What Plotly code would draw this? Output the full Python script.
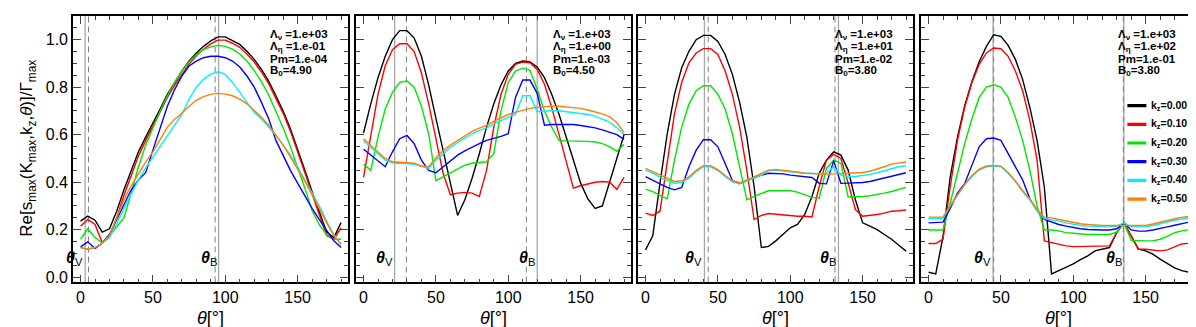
import plotly.graph_objects as go
from plotly.subplots import make_subplots

# angle grid (deg)
theta = list(range(0, 185, 5))

k_labels = ["0.00", "0.10", "0.20", "0.30", "0.40", "0.50"]
k_colors = ["#000000", "#ff0000", "#00e600", "#0000ff", "#00f0ff", "#ff8000"]

# panel 1: Lambda_eta = 1e-01
p1_k000 = [0.236, 0.257, 0.24, 0.19, 0.204, 0.278, 0.368, 0.45, 0.528, 0.59, 0.646, 0.708, 0.77, 0.82, 0.868,
           0.91, 0.944, 0.972, 0.995, 1.012, 1.012, 0.996, 0.98, 0.951, 0.917, 0.875, 0.826, 0.764, 0.70, 0.625,
           0.54, 0.45, 0.36, 0.278, 0.19, 0.167, 0.23]
p1_k010 = [0.215, 0.243, 0.222, 0.146, 0.17, 0.25, 0.345, 0.43, 0.51, 0.575, 0.635, 0.695, 0.757, 0.808, 0.855,
           0.897, 0.932, 0.96, 0.982, 0.998, 0.998, 0.985, 0.968, 0.94, 0.906, 0.864, 0.815, 0.754, 0.69, 0.615,
           0.53, 0.44, 0.35, 0.265, 0.176, 0.16, 0.208]
p1_k020 = [0.16, 0.204, 0.167, 0.146, 0.175, 0.212, 0.25, 0.354, 0.465, 0.556, 0.632, 0.70, 0.764, 0.82, 0.868,
           0.907, 0.937, 0.958, 0.97, 0.976, 0.972, 0.96, 0.94, 0.91, 0.87, 0.823, 0.767, 0.70, 0.628, 0.55,
           0.465, 0.375, 0.28, 0.22, 0.18, 0.16, 0.16]
p1_k030 = [0.128, 0.149, 0.121, 0.143, 0.18, 0.243, 0.305, 0.368, 0.41, 0.44, 0.535, 0.63, 0.72, 0.79, 0.847,
           0.889, 0.91, 0.924, 0.93, 0.93, 0.924, 0.91, 0.885, 0.847, 0.80, 0.736, 0.667, 0.576, 0.51, 0.45,
           0.396, 0.34, 0.29, 0.243, 0.2, 0.153, 0.125]
p1_k040 = [0.125, 0.118, 0.125, 0.143, 0.167, 0.225, 0.29, 0.35, 0.41, 0.46, 0.505, 0.555, 0.6, 0.643, 0.685,
           0.75, 0.8, 0.833, 0.855, 0.865, 0.854, 0.82, 0.778, 0.736, 0.694, 0.667, 0.632, 0.597, 0.556, 0.514,
           0.465, 0.41, 0.354, 0.3, 0.236, 0.18, 0.139]
p1_k050 = [0.125, 0.118, 0.125, 0.143, 0.175, 0.25, 0.326, 0.385, 0.4375, 0.485, 0.528, 0.58, 0.632, 0.665, 0.69,
           0.72, 0.745, 0.76, 0.77, 0.774, 0.771, 0.764, 0.75, 0.73, 0.704, 0.674, 0.64, 0.60, 0.556, 0.507,
           0.458, 0.403, 0.347, 0.285, 0.23, 0.174, 0.139]

# panel 2: Lambda_eta = 1e+00
p2_k000 = [0.607, 0.73, 0.84, 0.93, 1.0, 1.038, 1.038, 1.007, 0.93, 0.81, 0.67, 0.535, 0.396, 0.26, 0.326, 0.417,
           0.52, 0.632, 0.73, 0.81, 0.868, 0.9, 0.91, 0.906, 0.885, 0.84, 0.77, 0.6875, 0.59, 0.493, 0.396, 0.33,
           0.29, 0.3, 0.4, 0.5, 0.6]
p2_k010 = [0.42, 0.604, 0.77, 0.89, 0.958, 0.983, 0.983, 0.95, 0.86, 0.73, 0.576, 0.4375, 0.347, 0.354, 0.357,
           0.354, 0.34, 0.45, 0.632, 0.77, 0.854, 0.896, 0.906, 0.903, 0.875, 0.8125, 0.715, 0.604, 0.493, 0.375,
           0.385, 0.393, 0.4, 0.403, 0.4, 0.37, 0.42]
p2_k020 = [0.476, 0.45, 0.59, 0.708, 0.778, 0.82, 0.826, 0.8, 0.72, 0.604, 0.407, 0.424, 0.44, 0.458, 0.472, 0.48,
           0.482, 0.486, 0.52, 0.70, 0.82, 0.868, 0.88, 0.871, 0.79, 0.70, 0.632, 0.576, 0.574, 0.574, 0.574,
           0.572, 0.569, 0.5625, 0.55, 0.53, 0.56]
p2_k030 = [0.539, 0.514, 0.486, 0.465, 0.528, 0.583, 0.597, 0.5625, 0.493, 0.45, 0.44, 0.465, 0.493, 0.514, 0.532,
           0.549, 0.5625, 0.576, 0.583, 0.593, 0.604, 0.757, 0.83, 0.83, 0.774, 0.64, 0.643, 0.643, 0.643, 0.643,
           0.639, 0.635, 0.629, 0.62, 0.611, 0.6, 0.58]
p2_k040 = [0.574, 0.549, 0.52, 0.493, 0.482, 0.479, 0.479, 0.475, 0.465, 0.458, 0.493, 0.52, 0.546, 0.567, 0.586,
           0.604, 0.618, 0.629, 0.646, 0.66, 0.674, 0.6875, 0.764, 0.764, 0.697, 0.70, 0.701, 0.701, 0.697, 0.694,
           0.69, 0.685, 0.678, 0.667, 0.653, 0.63, 0.6]
p2_k050 = [0.583, 0.556, 0.528, 0.5, 0.486, 0.483, 0.482, 0.48, 0.468, 0.465, 0.503, 0.532, 0.556, 0.576, 0.597,
           0.614, 0.628, 0.639, 0.656, 0.671, 0.685, 0.694, 0.704, 0.711, 0.715, 0.718, 0.72, 0.72, 0.718, 0.715,
           0.711, 0.704, 0.697, 0.6875, 0.676, 0.65, 0.61]

# panel 3: Lambda_eta = 1e+01
p3_k000 = [0.115, 0.174, 0.396, 0.604, 0.77, 0.882, 0.951, 1.0, 1.018, 1.018, 0.993, 0.9375, 0.854, 0.736, 0.59,
           0.382, 0.125, 0.13, 0.153, 0.18, 0.208, 0.222, 0.264, 0.34, 0.4375, 0.493, 0.528, 0.514, 0.451, 0.326,
           0.229, 0.215, 0.2, 0.18, 0.16, 0.135, 0.11]
p3_k010 = [0.27, 0.26, 0.278, 0.493, 0.6875, 0.82, 0.903, 0.944, 0.9625, 0.9625, 0.9375, 0.868, 0.77, 0.632, 0.45,
           0.243, 0.26, 0.268, 0.265, 0.262, 0.257, 0.257, 0.257, 0.254, 0.382, 0.493, 0.517, 0.5, 0.396, 0.285,
           0.257, 0.26, 0.264, 0.27, 0.278, 0.28, 0.283]
p3_k020 = [0.371, 0.36, 0.345, 0.33, 0.493, 0.632, 0.729, 0.785, 0.806, 0.806, 0.77, 0.708, 0.604, 0.465, 0.326,
           0.34, 0.352, 0.364, 0.364, 0.364, 0.364, 0.358, 0.347, 0.336, 0.333, 0.458, 0.493, 0.479, 0.3375, 0.3375,
           0.34, 0.343, 0.347, 0.354, 0.361, 0.37, 0.378]
p3_k030 = [0.424, 0.41, 0.393, 0.378, 0.368, 0.378, 0.465, 0.535, 0.579, 0.579, 0.549, 0.479, 0.407, 0.396, 0.407,
           0.42, 0.43, 0.4375, 0.4375, 0.435, 0.43, 0.426, 0.424, 0.42, 0.395, 0.393, 0.49, 0.395, 0.396, 0.396,
           0.399, 0.403, 0.41, 0.417, 0.424, 0.432, 0.44]
p3_k040 = [0.451, 0.438, 0.42, 0.407, 0.396, 0.399, 0.417, 0.444, 0.465, 0.465, 0.449, 0.424, 0.401, 0.392, 0.403,
           0.417, 0.43, 0.449, 0.451, 0.449, 0.444, 0.441, 0.4375, 0.4375, 0.435, 0.4375, 0.465, 0.43, 0.424, 0.424,
           0.428, 0.433, 0.44, 0.449, 0.458, 0.465, 0.47]
p3_k050 = [0.458, 0.444, 0.43, 0.414, 0.403, 0.406, 0.422, 0.45, 0.47, 0.47, 0.453, 0.428, 0.406, 0.397, 0.408,
           0.422, 0.4375, 0.451, 0.454, 0.451, 0.447, 0.443, 0.4375, 0.435, 0.434, 0.433, 0.435, 0.436, 0.436,
           0.4375, 0.441, 0.446, 0.454, 0.465, 0.476, 0.48, 0.485]

# panel 4: Lambda_eta = 1e+02
p4_k000 = [0.021, 0.014, 0.17, 0.424, 0.59, 0.722, 0.824, 0.907, 0.972, 1.021, 1.014, 0.976, 0.917, 0.833, 0.715,
           0.576, 0.38, 0.014, 0.028, 0.042, 0.056, 0.074, 0.09, 0.111, 0.118, 0.125, 0.1875, 0.229, 0.174, 0.118,
           0.111, 0.097, 0.076, 0.056, 0.039, 0.028, 0.021]
p4_k010 = [0.142, 0.142, 0.16, 0.382, 0.576, 0.715, 0.82, 0.896, 0.944, 0.965, 0.962, 0.93, 0.868, 0.785, 0.66,
           0.493, 0.153, 0.146, 0.139, 0.132, 0.129, 0.129, 0.129, 0.129, 0.129, 0.132, 0.1875, 0.229, 0.174, 0.118,
           0.118, 0.115, 0.111, 0.115, 0.128, 0.14, 0.143]
p4_k020 = [0.199, 0.199, 0.199, 0.3125, 0.4375, 0.5625, 0.667, 0.757, 0.8, 0.81, 0.8, 0.757, 0.674, 0.576, 0.451,
           0.3, 0.199, 0.199, 0.195, 0.188, 0.185, 0.182, 0.18, 0.18, 0.18, 0.18, 0.19, 0.229, 0.155, 0.153, 0.153,
           0.153, 0.16, 0.172, 0.1875, 0.195, 0.2]
p4_k030 = [0.229, 0.229, 0.232, 0.29, 0.354, 0.395, 0.475, 0.549, 0.583, 0.586, 0.576, 0.521, 0.465, 0.41, 0.33,
           0.28, 0.243, 0.232, 0.222, 0.215, 0.208, 0.204, 0.201, 0.199, 0.199, 0.199, 0.204, 0.229, 0.199, 0.194,
           0.194, 0.199, 0.204, 0.212, 0.219, 0.226, 0.232]
p4_k040 = [0.247, 0.247, 0.247, 0.299, 0.345, 0.389, 0.424, 0.451, 0.465, 0.468, 0.465, 0.4375, 0.403, 0.361,
           0.325, 0.28, 0.247, 0.243, 0.236, 0.229, 0.222, 0.218, 0.215, 0.212, 0.212, 0.212, 0.215, 0.229, 0.212,
           0.212, 0.212, 0.218, 0.226, 0.232, 0.24, 0.245, 0.25]
p4_k050 = [0.253, 0.253, 0.253, 0.303, 0.348, 0.392, 0.428, 0.455, 0.468, 0.471, 0.468, 0.441, 0.406, 0.365, 0.33,
           0.285, 0.253, 0.25, 0.243, 0.236, 0.229, 0.225, 0.222, 0.219, 0.218, 0.218, 0.218, 0.22, 0.218, 0.218,
           0.218, 0.224, 0.232, 0.238, 0.246, 0.252, 0.256]

panels = [
    [p1_k000, p1_k010, p1_k020, p1_k030, p1_k040, p1_k050],
    [p2_k000, p2_k010, p2_k020, p2_k030, p2_k040, p2_k050],
    [p3_k000, p3_k010, p3_k020, p3_k030, p3_k040, p3_k050],
    [p4_k000, p4_k010, p4_k020, p4_k030, p4_k040, p4_k050],
]

lam_nu = ["1.e+03", "1.e+03", "1.e+03", "1.e+03"]
lam_eta = ["1.e-01", "1.e+00", "1.e+01", "1.e+02"]
pm = ["1.e-04", "1.e-03", "1.e-02", "1.e-01"]
b0 = ["4.90", "4.50", "3.80", "3.80"]

# marker angles: (solid, dashed)
theta_v = [(3.2, 5.5), (21.5, 29.6), (40.7, 43.3), (44.6, 45.0)]
theta_b = [(95.4, 93.0), (120.0, 112.5), (133.3, 130.9), (135.0, 134.6)]

W, H = 1196, 327
left_px = [65, 348, 630, 913]
panel_w = 275
top_px, bot_px = 8, 277

fig = make_subplots(rows=1, cols=4)

for p, series in enumerate(panels):
    for k, vals in enumerate(series):
        fig.add_trace(go.Scatter(x=theta, y=vals, mode="lines", showlegend=False,
                                 line=dict(color=k_colors[k], width=1.4)), row=1, col=p + 1)

FONT = "Liberation Sans, Arial, sans-serif"
ann = []
shapes = []
for p in range(4):
    xa = "x" if p == 0 else f"x{p + 1}"
    ya = "y" if p == 0 else f"y{p + 1}"
    x0 = left_px[p] / W
    x1 = (left_px[p] + panel_w) / W
    fig.layout[f"xaxis{'' if p == 0 else p + 1}"].update(domain=[x0, x1])
    fig.layout[f"yaxis{'' if p == 0 else p + 1}"].update(domain=[(H - bot_px) / H, (H - top_px) / H])

    for xs, xd in [theta_v[p], theta_b[p]]:
        shapes.append(dict(type="line", xref=xa, yref=f"{ya} domain", x0=xs, x1=xs, y0=0, y1=1,
                           line=dict(color="#a8a8a8", width=1.3), layer="below"))
        shapes.append(dict(type="line", xref=xa, yref=f"{ya} domain", x0=xd, x1=xd, y0=0, y1=1,
                           line=dict(color="#808080", width=1, dash="6px,4px"), layer="below"))

    for lab, xs in [("V", theta_v[p][0]), ("B", theta_b[p][0])]:
        ann.append(dict(xref=xa, yref=ya, x=xs, y=0.08, xanchor="right", yanchor="middle", showarrow=False,
                        text=f"<b><i>θ</i></b><sub>{lab}</sub>", font=dict(size=16, family=FONT, color="black")))

    rows = [f"Λ<sub>ν</sub> =" + lam_nu[p], f"Λ<sub>η</sub> =" + lam_eta[p], "Pm=" + pm[p], "B<sub>0</sub>=" + b0[p]]
    for i, t in enumerate(rows):
        ann.append(dict(xref=xa, yref=ya, x=129.5, y=1.02 - 0.05 * i, xanchor="left", yanchor="middle",
                        showarrow=False, text=f"<b>{t}</b>", font=dict(size=11.5, family=FONT, color="black")))

    ann.append(dict(xref="paper", yref="paper", x=(left_px[p] + panel_w / 2) / W, y=(H - 313) / H,
                    xanchor="center", yanchor="middle", showarrow=False, text="<i>θ</i>[°]",
                    font=dict(size=18, family=FONT, color="black")))

# legend inside panel 4
for k in range(6):
    yv = 0.7225 - 0.0787 * k
    shapes.append(dict(type="line", xref="x4", yref="y4", x0=137.4, x1=150.5, y0=yv, y1=yv,
                       line=dict(color=k_colors[k], width=3.2)))
    ann.append(dict(xref="x4", yref="y4", x=152.0, y=yv, xanchor="left", yanchor="middle", showarrow=False,
                    text=f"<b>k<sub>z</sub>=" + k_labels[k] + "</b>", font=dict(size=10.5, family=FONT, color="black")))

ann.append(dict(xref="paper", yref="paper", x=20 / W, y=(H - 142) / H, xanchor="center", yanchor="middle",
                showarrow=False, textangle=-90,
                text="Re[s<sub>max</sub>(K<sub>max</sub>,k<sub>z</sub>,<i>θ</i>)]/Γ<sub>max</sub>",
                font=dict(size=17, family=FONT, color="black")))

fig.update_xaxes(range=[-5.2, 184.8], tick0=0, dtick=50, ticks="inside", ticklen=8, tickwidth=1,
                 minor=dict(dtick=10, ticklen=4, ticks="inside", tickwidth=1),
                 showline=True, linecolor="black", linewidth=1.6, mirror="ticks", showgrid=False, zeroline=False,
                 tickfont=dict(size=16, family=FONT, color="black"))
fig.update_yaxes(range=[-0.022, 1.1], tick0=0, dtick=0.2, ticks="inside", ticklen=8, tickwidth=1,
                 minor=dict(dtick=0.05, ticklen=4, ticks="inside", tickwidth=1),
                 showline=True, linecolor="black", linewidth=1.6, mirror="ticks", showgrid=False, zeroline=False,
                 tickformat=".1f", showticklabels=False, tickfont=dict(size=16, family=FONT, color="black"))
fig.update_yaxes(showticklabels=True, row=1, col=1)

fig.update_layout(width=W, height=H, margin=dict(l=0, r=0, t=0, b=0), plot_bgcolor="white",
                  paper_bgcolor="white", showlegend=False, annotations=ann, shapes=shapes)

fig.write_html("out.html")
